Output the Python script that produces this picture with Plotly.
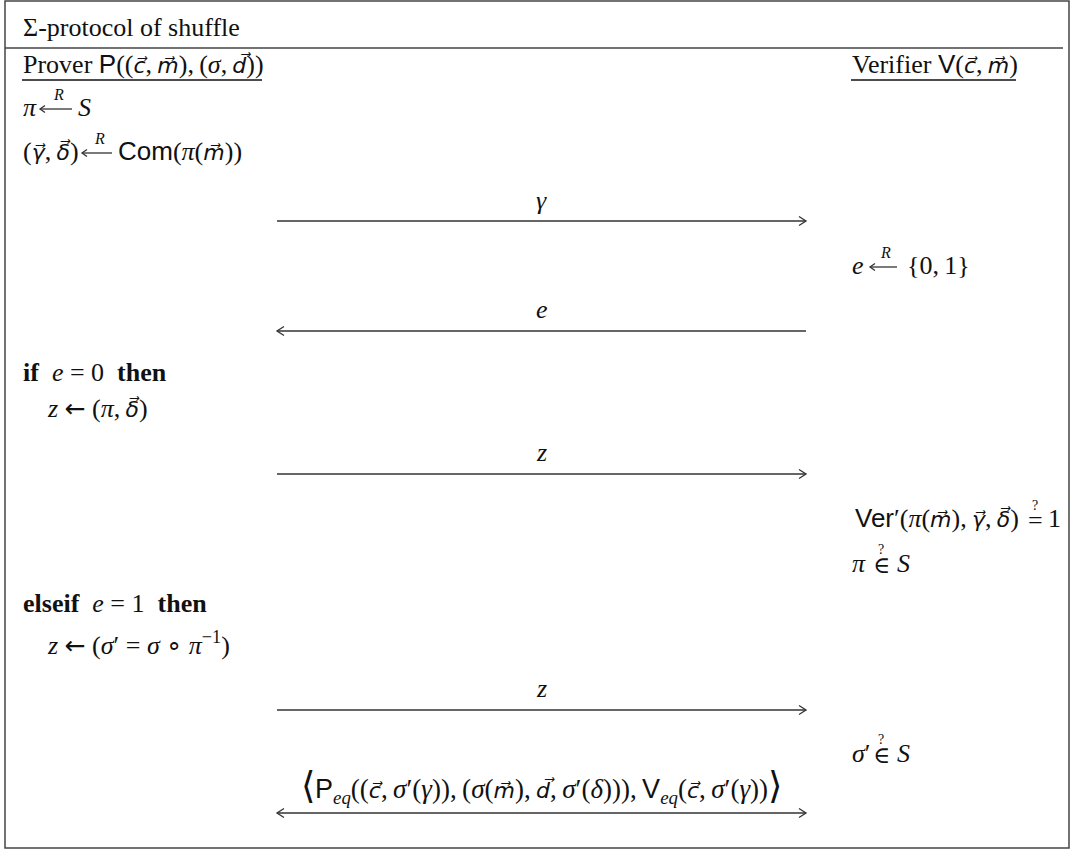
import plotly.graph_objects as go

W, H = 1073, 861
FS = 26
SERIF = "Liberation Serif"
SANS = "Liberation Sans"
INK = "#111111"
LINE = "#333333"

V = "\u20d7"   # combining vector arrow
TS = "\u2009"  # thin space
ES = "\u2002"  # en space
MS = "\u2005"  # four-per-em space (math relation spacing)
C = "," + TS


def it(s):
    return f"<i>{s}</i>"


def sf(s):
    return f"<span style='font-family:{SANS}'>{s}</span>"


def vec(s):
    return f"<span style='font-family:DejaVu Sans;font-size:22px'><i>{s}{V}</i></span>"


LARR = "<span style='font-family:DejaVu Sans;font-size:25px'>←</span>"

# ---------------- content ----------------
title = "Σ-protocol of shuffle"
prover_head = ("Prover " + sf("P") + "((" + vec("c") + C + vec("m") + ")" + C + "(" + it("σ") + C
               + vec("d") + "))")
verifier_head = "Verifier " + sf("V") + "(" + vec("c") + C + vec("m") + ")"

prover_samples_lhs = [it("π"), "(" + vec("γ") + C + vec("δ") + ")"]
prover_samples_rhs = [it("S"), sf("Com") + "(" + it("π") + "(" + vec("m") + "))"]
verifier_sample_lhs = it("e")
verifier_sample_rhs = "{0" + C + "1}"

branch_heads = ["<b>if</b>" + ES + it("e") + MS + "=" + MS + "0" + ES + "<b>then</b>",
                "<b>elseif</b>" + ES + it("e") + MS + "=" + MS + "1" + ES + "<b>then</b>"]
branch_bodies = [it("z") + MS + LARR + MS + "(" + it("π") + C + vec("δ") + ")",
                 it("z") + MS + LARR + MS + "(" + it("σ") + "′" + MS + "=" + MS + it("σ") + MS
                 + "∘" + MS + it("π") + "<sup>−1</sup>)"]

check_eq_lhs = (sf("Ver") + "′(" + it("π") + "(" + vec("m") + ")" + C + vec("γ") + C
                + vec("δ") + ")")
check_eq_rhs = "1"
check_in_lhs = [it("π"), it("σ") + "′"]
check_in_rhs = [it("S"), it("S")]

BIG = "<span style='font-size:37px'>{}</span>"
big_msg = (BIG.format("⟨") + sf("P") + "<sub>" + it("eq") + "</sub>(("
           + vec("c") + C + it("σ") + "′(" + it("γ") + "))" + C + "(" + it("σ") + "(" + vec("m") + ")" + C
           + vec("d") + C + it("σ") + "′(" + it("δ") + ")))" + C + sf("V") + "<sub>" + it("eq")
           + "</sub>(" + vec("c") + C + it("σ") + "′(" + it("γ") + "))" + BIG.format("⟩"))

msg_labels = [it("γ"), it("e"), it("z"), it("z"), big_msg]
msg_sizes = [FS, FS, FS, FS, 27]
msg_dirs = ["right", "left", "right", "right", "both"]

# ---------------- layout positions ----------------
XL, XL2, XR = 22, 46, 851
AX0, AX1 = 277, 806
msg_label_y = [200, 309, 452, 688, 786]
msg_arrow_y = [221, 331, 474, 710, 813]

fig = go.Figure()
ann = []


def add(x, y, text, anchor="left", size=FS, family=SERIF):
    ann.append(dict(x=x, y=y, xref="x", yref="y", text=text, showarrow=False,
                    xanchor=anchor, yanchor="middle", borderpad=0,
                    font=dict(family=family, size=size, color=INK)))


def draw_arrow(x0, x1, y, d, head=7, spread=4.5):
    xs = [x0, x1, None]
    ys = [y, y, None]
    if d in ("right", "both"):
        xs += [x1 - head, x1, x1 - head, None]
        ys += [y - spread, y, y + spread, None]
    if d in ("left", "both"):
        xs += [x0 + head, x0, x0 + head, None]
        ys += [y - spread, y, y + spread, None]
    fig.add_trace(go.Scatter(x=xs, y=ys, mode="lines", line=dict(color=LINE, width=1.3),
                             hoverinfo="skip", showlegend=False))


def sample_arrow(x0, x1, y):
    draw_arrow(x0, x1, y + 2, "left", head=5, spread=3.5)
    add((x0 + x1) / 2 + 2, y - 13, it("R"), anchor="center", size=16)


# title & headers
add(XL, 27, title)
add(XL, 64, prover_head)
add(XR, 64, verifier_head)

# prover sampling
sy = [107, 151]
arr_x = [(40, 72), (82, 112)]
rhs_x = [77, 117]
for lhs, rhs, y, (a0, a1), rx in zip(prover_samples_lhs, prover_samples_rhs, sy, arr_x, rhs_x):
    add(XL, y, lhs)
    sample_arrow(a0, a1, y)
    add(rx, y, rhs)

# verifier sampling
add(XR, 265, verifier_sample_lhs)
sample_arrow(870, 897, 265)
add(906, 265, verifier_sample_rhs)

# branches
for head, body, yh, yb in zip(branch_heads, branch_bodies, [372, 603], [408, 643]):
    add(XL, yh, head)
    add(XL2, yb, body)

# checks
add(1020, 518, check_eq_lhs, anchor="right")
add(1035, 520, "=", anchor="center")
add(1035, 505, "?", anchor="center", size=14)
add(1047, 518, check_eq_rhs)
for lhs, rhs, y in zip(check_in_lhs, check_in_rhs, [563, 753]):
    add(XR, y, lhs)
    add(881, y + 2, "∈", anchor="center", size=23, family="DejaVu Serif")
    add(881, y - 14, "?", anchor="center", size=14)
    add(896, y, rhs)

# messages
for lab, sz, d, ly, ay in zip(msg_labels, msg_sizes, msg_dirs, msg_label_y, msg_arrow_y):
    add((AX0 + AX1) / 2, ly, lab, anchor="center", size=sz)
    draw_arrow(AX0, AX1, ay, d)

shapes = [
    dict(type="rect", x0=5, x1=1069, y0=1, y1=848, line=dict(color="#444444", width=1.5)),
    dict(type="line", x0=5, x1=1063, y0=48, y1=48, line=dict(color="#444444", width=1.5)),
    dict(type="line", x0=XL, x1=262, y0=80, y1=80, line=dict(color="#111111", width=1.5)),
    dict(type="line", x0=XR, x1=1016, y0=80, y1=80, line=dict(color="#111111", width=1.5)),
]

fig.update_layout(
    width=W, height=H, margin=dict(l=0, r=0, t=0, b=0),
    paper_bgcolor="white", plot_bgcolor="white",
    xaxis=dict(range=[0, W], visible=False, fixedrange=True),
    yaxis=dict(range=[H, 0], visible=False, fixedrange=True),
    annotations=ann, shapes=shapes, showlegend=False,
)

fig.write_html("out.html", config={"displayModeBar": False},
               post_script="document.body.style.margin='0px';")
